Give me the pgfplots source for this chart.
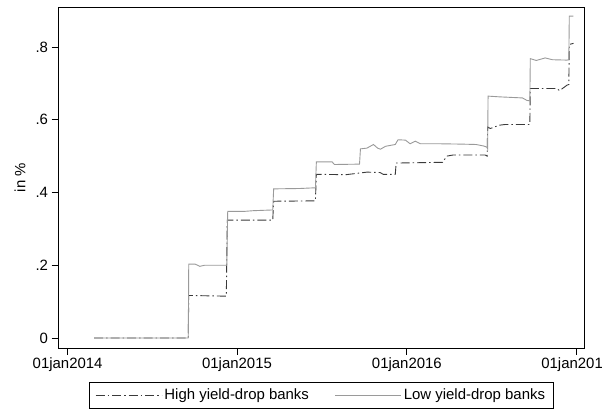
\documentclass[border=0pt]{standalone}
\usepackage{fontspec}
\setmainfont{Liberation Sans}
\usepackage{pgfplots}
\pgfplotsset{compat=1.18}
\definecolor{lowc}{HTML}{9A9A9A}
\definecolor{highc}{HTML}{3A3A3A}
\begin{document}
\begin{tikzpicture}[x=1bp,y=1bp]
\begin{axis}[
  at={(58bp,64bp)}, anchor=south west,
  scale only axis, width=526.6bp, height=341bp,
  xmin=-20.7, xmax=1114, ymin=-0.0275, ymax=0.91,
  axis line style={black, line width=0.9bp},
  tick style={black, line width=0.8bp},
  tick align=outside, major tick length=6.5bp,
  xtick={0,365,731,1096},
  xticklabels={01jan2014,01jan2015,01jan2016,01jan2017},
  ytick={0,0.2,0.4,0.6,0.8},
  yticklabels={0,.2,.4,.6,.8},
  xtick pos=bottom, ytick pos=left,
  ticklabel style={font=\fontsize{15}{18}\selectfont},
  ylabel={in \%},
  every axis y label/.style={at={(axis description cs:-0.072,0.5)}, rotate=90, anchor=center, font=\fontsize{15}{18}\selectfont},
  legend style={draw=black, line width=0.8bp, at={(0.5,-0.0988)}, anchor=north,
    font=\fontsize{15}{18}\selectfont, inner xsep=6bp, inner ysep=5bp,
    /tikz/every even column/.append style={column sep=24bp}},
  legend columns=2,
  legend image code/.code={\draw[#1] (0bp,0bp) -- (57bp,0bp); \path (0bp,0bp) -- (66bp,0bp);},
]
\addplot[highc, line width=0.9bp, dash pattern=on 9bp off 3bp on 1.5bp off 3bp] coordinates {
(57,0) (260,0) (261,0.117) (300,0.116) (342,0.115) (344,0.324) (442,0.324) (444,0.376) (534,0.377) (536,0.45) (600,0.449) (645,0.456) (673,0.455) (680,0.45) (706,0.45) (708,0.481) (760,0.482) (808,0.483) (817,0.5) (830,0.503) (900,0.503) (904,0.5) (905,0.58) (911,0.576) (930,0.585) (943,0.587) (996,0.587) (997,0.686) (1054,0.686) (1060,0.68) (1076,0.695) (1080,0.697) (1081,0.807) (1090,0.81)
};
\addlegendentry{High yield-drop banks}
\addplot[lowc, line width=0.9bp] coordinates {
(57,0) (260,0) (261,0.203) (275,0.203) (285,0.197) (295,0.2) (343,0.2) (345,0.348) (380,0.348) (400,0.35) (442,0.352) (444,0.41) (500,0.411) (534,0.413) (536,0.484) (570,0.484) (575,0.477) (629,0.478) (631,0.52) (645,0.522) (659,0.532) (668,0.522) (674,0.519) (685,0.527) (706,0.532) (712,0.545) (728,0.544) (738,0.534) (749,0.541) (760,0.534) (800,0.534) (850,0.533) (880,0.532) (896,0.528) (903,0.525) (905,0.52) (906,0.665) (930,0.663) (980,0.66) (990,0.653) (996,0.652) (997,0.768) (1010,0.763) (1029,0.77) (1045,0.765) (1076,0.764) (1080,0.765) (1081,0.885) (1090,0.885)
};
\addlegendentry{Low yield-drop banks}
\end{axis}
\pgfresetboundingbox
\path[use as bounding box] (0,0) rectangle (602bp,412bp);
\end{tikzpicture}
\end{document}
